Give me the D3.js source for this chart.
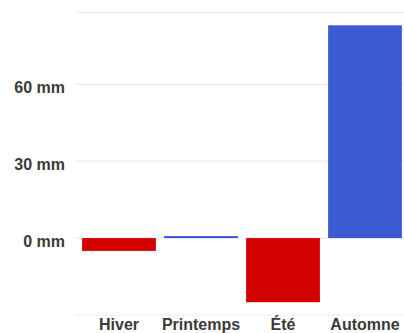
<!DOCTYPE html>
<html>
<head>
<meta charset="utf-8">
<script src="https://cdn.jsdelivr.net/npm/d3@7"></script>
<style>
  html, body { margin: 0; padding: 0; background: #fff; }
  svg { display: block; }
  text { font-family: "Liberation Sans", Arial, sans-serif; font-weight: bold; fill: #3a3a3a; }
</style>
</head>
<body>
<svg id="chart" width="404" height="333"></svg>
<script>
// Écart de précipitations par saison (mm)
const seasons = ["Hiver", "Printemps", "Été", "Automne"];
const anomalies = [-5, 0.8, -25, 83];
const yTicks = [0, 30, 60];
const gridValues = [-30, 0, 30, 60, 88];

const width = 404, height = 333;
const svg = d3.select("#chart");

const x = d3.scaleBand()
  .domain(seasons)
  .range([78, 406])
  .paddingInner(0.1)
  .paddingOuter(0.05);

const y = d3.scaleLinear()
  .domain([-30, 88])
  .range([315, 12.5]);

// Lignes de grille
svg.append("g")
  .selectAll("line")
  .data(gridValues)
  .join("line")
  .attr("x1", 75)
  .attr("x2", width)
  .attr("y1", d => y(d))
  .attr("y2", d => y(d))
  .attr("stroke", "#ededed")
  .attr("stroke-width", 1.2);

// Axe vertical
const yAxis = d3.axisLeft(y)
  .tickValues(yTicks)
  .tickSize(0)
  .tickPadding(0)
  .tickFormat(d => d + " mm");

svg.append("g")
  .attr("transform", "translate(65,0)")
  .call(yAxis)
  .call(g => g.select(".domain").remove())
  .call(g => g.selectAll("text")
    .attr("font-size", 16)
    .attr("dy", "0.5em")
    .attr("fill", "#3a3a3a"));

// Barres
svg.append("g")
  .selectAll("rect")
  .data(seasons.map((s, i) => ({ season: s, value: anomalies[i] })))
  .join("rect")
  .attr("x", d => x(d.season))
  .attr("width", x.bandwidth())
  .attr("y", d => y(Math.max(0, d.value)))
  .attr("height", d => Math.abs(y(d.value) - y(0)))
  .attr("fill", d => d.value < 0 ? "#d50000" : "#3b5bd3");

// Axe horizontal (étiquettes)
const xAxis = d3.axisBottom(x).tickSize(0).tickPadding(0);
svg.append("g")
  .attr("transform", "translate(0,318)")
  .call(xAxis)
  .call(g => g.select(".domain").remove())
  .call(g => g.selectAll("text")
    .attr("font-size", 16)
    .attr("dy", "0.72em")
    .attr("fill", "#3a3a3a"));
</script>
</body>
</html>
